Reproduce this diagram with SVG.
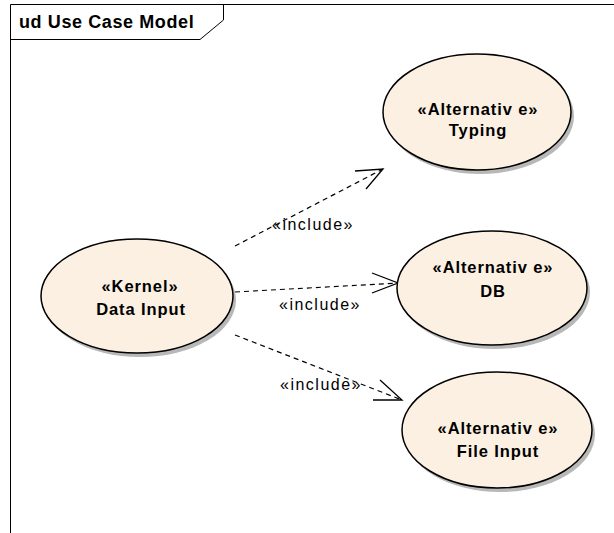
<svg xmlns="http://www.w3.org/2000/svg" width="614" height="533" viewBox="0 0 614 533">
<style>
.frame{fill:none;stroke:#000;stroke-width:1}
.uc{fill:#fbf0e2;stroke:#000;stroke-width:1.5}
.sh{fill:#b8b8b8}
.t{font-family:"Liberation Sans",Arial,sans-serif;font-size:16.5px;font-weight:bold;letter-spacing:0.9px;text-anchor:middle;fill:#000}
.lbl{font-family:"Liberation Sans",Arial,sans-serif;font-size:16px;letter-spacing:1.5px;text-anchor:middle;fill:#000}
.dep{fill:none;stroke:#000;stroke-width:1.2;stroke-dasharray:5,4}
.ah{fill:none;stroke:#000;stroke-width:1.3}
</style>
<rect width="614" height="533" fill="#fff"/>
<g id="frame">
<path class="frame" d="M10.5,533 V4.5 H614"/>
<path class="frame" d="M10.5,39.5 H200 L223.5,20 V4.5"/>
<text x="19" y="28" style="font-family:'Liberation Sans',Arial,sans-serif;font-size:18px;font-weight:bold;letter-spacing:0.6px">ud Use Case Model</text>
</g>
<g id="connectors">
<path class="dep" d="M235,246 L383,169"/>
<path class="ah" d="M355,171 L383,169 L366,189"/>
<text class="lbl" x="313" y="230">«include»</text>
<path class="dep" d="M235,292 L398,283"/>
<path class="ah" d="M372,273 L398,283 L372,293"/>
<text class="lbl" x="320" y="310">«include»</text>
<path class="dep" d="M235,335 L402,400"/>
<path class="ah" d="M380,380 L402,400 L373,400"/>
<text class="lbl" x="321" y="390">«include»</text>
</g>
<g id="kernel">
<ellipse class="sh" cx="140" cy="300" rx="96" ry="57"/>
<ellipse class="uc" cx="137" cy="296" rx="96" ry="57"/>
<text class="t" x="140" y="292">«Kernel»</text>
<text class="t" x="141" y="315">Data Input</text>
</g>
<g id="typing">
<ellipse class="sh" cx="480" cy="116" rx="94" ry="58"/>
<ellipse class="uc" cx="477" cy="112" rx="94" ry="58"/>
<text class="t" x="478" y="115">«Alternativ e»</text>
<text class="t" x="478" y="136">Typing</text>
</g>
<g id="db">
<ellipse class="sh" cx="495" cy="292" rx="95" ry="57"/>
<ellipse class="uc" cx="492" cy="288" rx="95" ry="57"/>
<text class="t" x="493" y="273">«Alternativ e»</text>
<text class="t" x="493" y="297">DB</text>
</g>
<g id="fileinput">
<ellipse class="sh" cx="500" cy="434" rx="95" ry="58"/>
<ellipse class="uc" cx="497" cy="430" rx="95" ry="58"/>
<text class="t" x="498" y="434">«Alternativ e»</text>
<text class="t" x="498" y="457">File Input</text>
</g>
</svg>
